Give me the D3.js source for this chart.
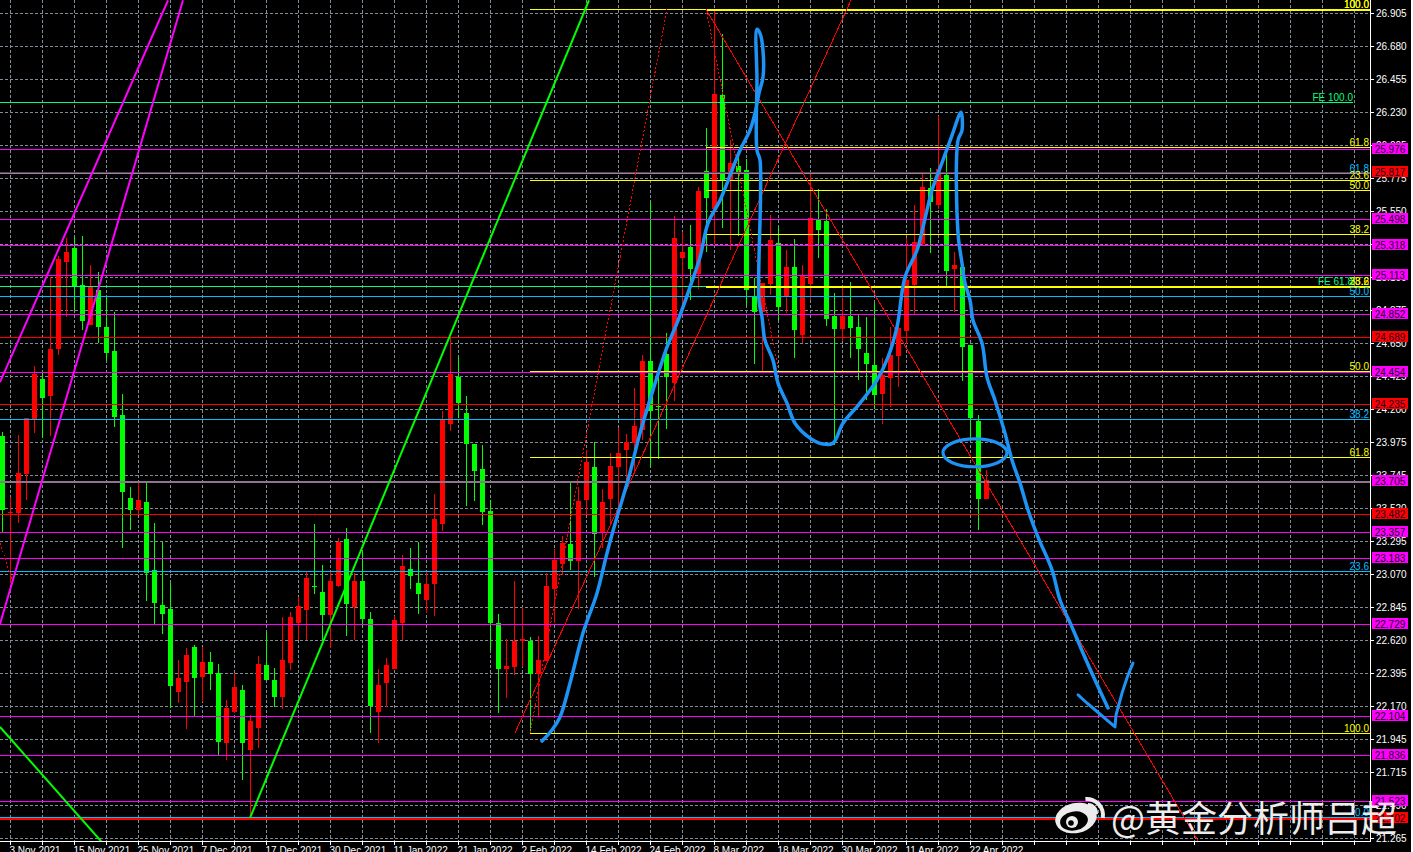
<!DOCTYPE html>
<html><head><meta charset="utf-8">
<script src="https://cdn.jsdelivr.net/npm/d3@7"></script>
<style>html,body{margin:0;padding:0;background:#fff;overflow:hidden}svg{display:block}</style>
</head><body><div id="chart"></div>
<script>
// ---- candle values (prices), one entry per trading day ----
const opens=[24.014,23.488,23.488,23.755,24.131,24.404,24.287,24.609,25.203,25.299,25.046,24.773,25.012,24.759,24.595,24.158,23.590,23.512,23.563,23.099,22.860,22.832,22.265,22.333,22.573,22.367,22.470,22.395,21.916,22.128,22.279,21.869,22.019,22.450,22.347,22.231,22.463,22.736,22.825,22.993,22.948,22.791,22.989,23.311,22.846,23.023,22.764,22.128,22.327,22.422,22.736,23.106,23.010,22.894,23.003,23.413,24.097,24.418,24.172,23.960,23.789,23.502,22.736,22.422,22.436,22.613,22.613,22.388,22.477,22.969,23.140,23.276,23.160,23.577,23.803,23.358,23.584,23.803,23.919,23.966,24.055,24.527,24.219,24.575,24.376,25.231,25.306,25.122,25.825,25.566,26.345,25.757,25.860,25.832,24.964,24.862,25.053,25.333,24.964,25.169,24.705,25.053,25.490,25.484,24.834,24.746,24.834,24.759,24.582,24.500,24.301,24.411,24.561,24.732,25.046,25.326,25.709,25.593,25.798,25.156,25.169,24.636,24.117,23.584];
const highs=[24.041,23.597,24.021,24.138,24.493,24.445,25.101,25.244,25.368,25.375,25.381,25.183,25.135,24.964,24.862,24.302,23.666,23.700,23.700,23.420,23.290,23.010,22.484,22.566,22.586,22.573,22.538,22.457,22.210,22.395,22.313,22.108,22.511,22.668,22.429,22.777,22.811,22.914,23.085,23.413,23.133,23.085,23.317,23.386,23.078,23.222,22.811,22.422,22.497,22.784,23.201,23.249,23.290,23.085,23.618,24.185,24.684,24.554,24.287,23.960,23.953,23.577,22.798,22.627,23.023,22.846,22.641,22.648,23.078,23.242,23.331,23.693,23.666,23.919,23.973,23.652,23.898,24.069,24.028,24.343,24.568,25.614,24.472,24.718,25.518,25.408,25.456,25.717,26.119,26.932,26.762,26.037,25.921,25.907,25.094,25.060,25.525,25.443,25.285,25.361,25.183,25.812,25.703,25.566,24.992,25.033,25.067,24.841,24.827,24.923,24.547,24.759,24.841,25.368,25.593,25.805,25.846,26.201,25.955,25.272,25.169,24.636,24.158,23.782];
const lows=[23.358,23.010,23.420,23.577,24.035,24.000,24.014,24.568,24.827,24.875,24.739,24.773,24.650,24.527,24.076,23.249,23.372,23.481,22.887,22.730,22.662,22.156,22.190,22.012,22.101,22.197,22.279,21.834,21.800,22.121,21.664,21.404,21.882,22.347,22.162,22.149,22.415,22.620,22.620,22.935,22.620,22.566,22.982,22.648,22.620,22.703,21.985,21.916,22.162,22.422,22.620,22.969,22.798,22.805,22.784,23.365,24.048,24.138,23.536,23.570,23.406,22.552,22.121,22.224,22.381,22.436,21.992,22.094,22.477,22.736,23.065,23.099,22.832,23.475,23.051,23.249,23.406,23.529,23.693,23.768,23.987,23.803,23.857,24.062,24.254,24.875,24.944,25.019,25.272,25.326,25.436,25.285,25.381,24.903,24.507,24.445,24.978,24.807,24.855,24.547,24.650,24.944,25.231,24.766,23.953,24.664,24.547,24.397,24.260,24.199,24.097,24.213,24.349,24.643,24.848,25.319,25.265,25.566,25.033,24.862,24.390,23.987,23.372,23.584];
const closes=[23.509,23.498,23.762,24.138,24.438,24.274,24.609,25.224,25.271,25.039,24.800,25.032,24.759,24.582,24.144,23.631,23.509,23.577,23.079,22.873,22.798,22.306,22.361,22.518,22.361,22.470,22.388,21.923,22.156,22.299,21.916,22.067,22.457,22.347,22.231,22.484,22.777,22.853,23.044,22.982,22.791,23.023,23.290,22.866,23.023,22.764,22.169,22.313,22.450,22.757,23.126,23.058,22.935,23.003,23.447,24.131,24.438,24.240,23.960,23.775,23.495,22.736,22.422,22.443,22.613,22.627,22.388,22.484,22.989,23.167,23.283,23.160,23.570,23.837,23.345,23.563,23.809,23.898,23.973,24.083,24.527,24.185,24.212,24.418,25.368,25.272,25.156,25.689,25.641,26.352,25.757,25.880,25.819,25.012,24.862,25.060,25.354,24.896,25.169,24.739,25.115,25.504,25.422,24.814,24.746,24.834,24.753,24.609,24.507,24.295,24.431,24.568,24.752,25.080,25.340,25.716,25.614,25.839,25.142,25.183,24.623,24.138,23.584,23.714];

// ---- axis labels ----
const priceTicks=["26.905","26.680","26.455","26.230","26.005","25.775","25.550","25.325","25.100","24.875","24.650","24.425","24.200","23.975","23.745","23.520","23.295","23.070","22.845","22.620","22.395","22.170","21.945","21.715","21.490","21.265"];
const dateLabels=["3 Nov 2021","15 Nov 2021","25 Nov 2021","7 Dec 2021","17 Dec 2021","30 Dec 2021","11 Jan 2022","21 Jan 2022","2 Feb 2022","14 Feb 2022","24 Feb 2022","8 Mar 2022","18 Mar 2022","30 Mar 2022","11 Apr 2022","22 Apr 2022"];

// ---- tagged support / resistance levels ----
const magentaLevels=[25.976,25.498,25.318,25.113,24.852,24.454,23.705,23.357,23.183,22.729,22.104,21.836,21.523];
const redLevels=[25.817,24.689,24.235,23.482,21.402];

// ---- fibonacci levels ----
const fibYellowA=[26.932,25.990,25.696,25.395,25.040];     // starts at bar 88
const fibYellowB=[26.932,25.764,24.459,23.870,21.985];     // starts at bar 66
const fibBlue=[25.812,24.970,24.131,23.092,21.410];
const fibGreen=[26.297,25.039];
const fibLabels=[
 ["100.0",26.932,"#ffff00",0],["100.0",26.932,"#ffff00",0],["61.8",25.990,"#ffff00",0],
 ["61.8",25.812,"#00bfff",0],["23.6",25.764,"#ffff00",0],["50.0",25.696,"#ffff00",0],
 ["38.2",25.395,"#ffff00",0],["23.6",25.040,"#ffff00",0],["38.2",25.040,"#ffff00",0],
 ["50.0",24.970,"#00bfff",0],["50.0",24.459,"#ffff00",0],["38.2",24.131,"#00bfff",0],
 ["61.8",23.870,"#ffff00",0],["23.6",23.092,"#00bfff",0],["100.0",21.985,"#ffff00",0],
 ["0.0",21.410,"#00bfff",0],["FE 100.0",26.297,"#00ff7f",1],["FE 61.8",25.039,"#00ff7f",1]];

// ---- trend lines: [bar, price] pairs ----
const magentaTrends=[[[-0.31,24.383],[20.69,26.994]],[[-0.31,22.73],[22.56,26.994]]];
const greenTrends=[[[30.94,21.404],[73.31,26.994]],[[-0.31,22.026],[12.81,21.215]]];
const redTrends=[[[64.06,21.985],[106.06,26.994]],[[87.94,26.932],[149.44,21.247]]];
const redDotted=[[[65.94,21.985],[83.06,26.932]],[[87.94,26.932],[96.94,24.486]],[[-0.31,23.283],[1.19,23.030]]];

// ---- hand-drawn blue annotation: [bar, price] ----
const sketchMain=[[67.44,21.930],[68.69,22.005],[69.69,22.094],[70.94,22.326],[72.56,22.668],[74.31,22.941],[75.56,23.214],[76.81,23.461],[78.19,23.714],[79.69,24.035],[81.31,24.329],[83.06,24.623],[84.31,24.787],[85.06,24.896],[85.94,25.033],[87.19,25.238],[88.19,25.470],[89.69,25.627],[91.19,25.832],[92.19,25.969],[93.44,26.106],[94.06,26.222],[94.56,26.359],[95.06,26.468],[95.06,26.652],[94.69,26.768],[94.31,26.796],[94.31,26.447],[94.31,25.969],[94.69,25.901],[94.56,24.944],[94.94,24.827],[95.31,24.670],[96.31,24.534],[96.94,24.377],[98.06,24.240],[99.06,24.103],[100.94,24.001],[102.56,23.960],[103.81,23.966],[105.06,24.103],[107.19,24.240],[109.31,24.397],[110.69,24.554],[111.81,24.759],[112.81,25.101],[114.31,25.285],[115.06,25.443],[116.19,25.696],[117.56,25.901],[118.69,26.071],[119.81,26.229],[119.94,26.106],[119.44,26.037],[119.44,25.402],[119.94,25.197],[120.31,25.060],[120.94,24.944],[121.31,24.807],[122.44,24.650],[123.06,24.418],[124.06,24.260],[125.31,24.035],[126.19,23.850],[127.19,23.693],[128.19,23.509],[129.44,23.324],[131.19,23.099],[132.19,22.894],[133.69,22.709],[135.06,22.532],[136.56,22.347],[138.19,22.156]];
const sketchArrow=[[134.44,22.245],[135.56,22.190],[139.06,22.026],[139.19,22.108],[139.94,22.258],[140.69,22.381],[141.31,22.463]];
const sketchEllipse={bar:121.56,price:23.90,barRadius:4.0,priceRadius:0.095};

// ---- scales ----
const W=1411,H=852,plotR=1370,plotB=841;
const x=d3.scaleLinear().domain([0,1]).range([2.5,10.5]);
const y=d3.scaleLinear().domain([26.905,21.265]).range([13.3,838.3]);
const tickY=d3.scalePoint().domain(priceTicks).range([13,838]);
const py=v=>Math.round(y(v))+0.5;
const ty=v=>Math.round(tickY(v))+0.5;
const FONT='"Liberation Sans",Arial,sans-serif';
const FS=10;

const svg=d3.select("#chart").append("svg").attr("width",1413).attr("height",H);
svg.append("rect").attr("width",W).attr("height",H).attr("fill","#000");
svg.append("defs").append("clipPath").attr("id","plot").append("rect").attr("width",plotR).attr("height",plotB);
const plot=svg.append("g").attr("clip-path","url(#plot)");

// grid
const GRID="#7f8c9a";
const gridBars=d3.range(0,43).map(k=>1+k*4);
plot.selectAll("line.gy").data(priceTicks).join("line").attr("x1",0).attr("x2",plotR)
 .attr("y1",ty).attr("y2",ty).attr("stroke",GRID).attr("stroke-dasharray","3,2").attr("shape-rendering","crispEdges");
plot.selectAll("line.gx").data(gridBars).join("line").attr("y1",0).attr("y2",plotB)
 .attr("x1",x).attr("x2",x).attr("stroke",GRID).attr("stroke-dasharray","3,2").attr("shape-rendering","crispEdges");

// candles
const n=opens.length, idx=d3.range(n);
const col=i=>closes[i]>=opens[i]?"#ff0000":"#00ff00";
const candles=plot.append("g").attr("shape-rendering","crispEdges");
candles.selectAll("line.w").data(idx).join("line").attr("x1",x).attr("x2",x)
 .attr("y1",i=>Math.round(y(highs[i]))).attr("y2",i=>Math.round(y(lows[i]))).attr("stroke",col);
candles.selectAll("rect").data(idx).join("rect")
 .attr("x",i=>x(i)-2.5).attr("width",5)
 .attr("y",i=>Math.round(y(Math.max(opens[i],closes[i]))))
 .attr("height",i=>Math.max(1,Math.round(y(Math.min(opens[i],closes[i])))-Math.round(y(Math.max(opens[i],closes[i])))))
 .attr("fill",col);

// horizontal levels
function hline(vals,color,startBar,width,endX){
 plot.append("g").attr("shape-rendering","crispEdges").selectAll("line").data(vals).join("line")
  .attr("x1",startBar==null?0:x(startBar)).attr("x2",endX||plotR).attr("y1",py).attr("y2",py)
  .attr("stroke",color).attr("stroke-width",typeof width=="function"?width:(width||1));
}
hline(magentaLevels,"#ff00ff");
hline([23.705],"#8f748f",null,2);
hline(redLevels,"#ff0000",null,v=>v==21.402||v==25.817?2:1);
hline(fibBlue,"#00bfff");
hline(fibGreen.slice(0,1),"#00ff7f",null,1,1353);
hline(fibGreen.slice(1),"#00ff7f",null,1);
hline(fibYellowB,"#ffff00",65.94);
hline(fibYellowA,"#ffff00",87.94,v=>(v==26.932||v==25.040)?2:1);
hline([21.402],"#ff0000",null,2);

// trend lines (aliased like the terminal's)
const line=d3.line().x(d=>x(d[0])).y(d=>y(d[1]));
const tr=plot.append("g").attr("shape-rendering","crispEdges").attr("fill","none");
tr.selectAll("path.rd").data(redDotted).join(e=>e.append("path")).attr("d",line).attr("stroke","#ff0000").attr("stroke-dasharray","2,2");
const tr2=plot.append("g").attr("shape-rendering","crispEdges").attr("fill","none");
tr2.selectAll("path").data(redTrends).join("path").attr("d",line).attr("stroke","#ff0000").attr("stroke-width",1);
const tr3=plot.append("g").attr("fill","none");
tr3.selectAll("path").data(magentaTrends).join("path").attr("d",line).attr("stroke","#ff00ff").attr("stroke-width",2);
const tr4=plot.append("g").attr("fill","none");
tr4.selectAll("path").data(greenTrends).join("path").attr("d",line).attr("stroke","#00ff00").attr("stroke-width",2);

// fib labels
svg.append("g").selectAll("text").data(fibLabels).join("text")
 .attr("x",d=>d[3]?1353:1369).attr("y",d=>py(d[1])-2).attr("text-anchor","end")
 .attr("font-family",FONT).attr("font-size",FS).attr("fill",d=>d[2]).text(d=>d[0]);

// axes
const axisG=svg.append("g");
axisG.append("line").attr("x1",plotR+0.5).attr("x2",plotR+0.5).attr("y1",0).attr("y2",plotB+1).attr("stroke","#fff").attr("shape-rendering","crispEdges");
axisG.append("line").attr("x1",0).attr("x2",plotR).attr("y1",plotB+0.5).attr("y2",plotB+0.5).attr("stroke","#fff").attr("shape-rendering","crispEdges");
const tickLines=svg.append("g"), tickTexts=svg.append("g");
tickLines.selectAll("line").data(priceTicks).join("line").attr("x1",plotR).attr("x2",plotR+4).attr("y1",ty).attr("y2",ty).attr("stroke","#fff").attr("shape-rendering","crispEdges");
tickTexts.selectAll("text").data(priceTicks).join("text").attr("x",plotR+6).attr("y",v=>ty(v)+3.5)
 .attr("font-family",FONT).attr("font-size",FS).attr("fill","#fff").text(v=>v);
const tickG=svg.append("g");
tickG.selectAll("line").data(gridBars).join("line").attr("x1",x).attr("x2",x).attr("y1",plotB).attr("y2",plotB+4).attr("stroke","#fff").attr("shape-rendering","crispEdges");
tickG.selectAll("text").data(dateLabels).join("text").attr("x",(d,i)=>x(1+i*8)-1).attr("y",854)
 .attr("font-family",FONT).attr("font-size",FS).attr("fill","#fff").text(d=>d);

// price tags
const tags=magentaLevels.map(v=>[v,"#ff00ff"]).concat(redLevels.map(v=>[v,"#ff0000"]));
const tagG=svg.append("g").selectAll("g").data(tags).join("g");
tagG.append("rect").attr("x",1372).attr("y",d=>Math.round(y(d[0]))-6).attr("width",36).attr("height",11).attr("fill",d=>d[1]).attr("shape-rendering","crispEdges");
tagG.append("text").attr("x",1390).attr("y",d=>Math.round(y(d[0]))+3.5).attr("text-anchor","middle")
 .attr("font-family",FONT).attr("font-size",FS).attr("fill","#200020").text(d=>d[0].toFixed(3));

// blue sketch
const curve=d3.line().x(d=>x(d[0])).y(d=>y(d[1])).curve(d3.curveCatmullRom.alpha(0.5));
const BLUE="#1c93f5";
svg.append("path").attr("d",curve(sketchMain)).attr("fill","none").attr("stroke",BLUE).attr("stroke-width",3.5).attr("stroke-linecap","round").attr("stroke-linejoin","round");
svg.append("path").attr("d",line(sketchArrow)).attr("fill","none").attr("stroke",BLUE).attr("stroke-width",3).attr("stroke-linecap","round").attr("stroke-linejoin","round");
const e=sketchEllipse;
svg.append("ellipse").attr("cx",x(e.bar)).attr("cy",y(e.price))
 .attr("rx",x(e.barRadius)-x(0)).attr("ry",y(e.price-e.priceRadius)-y(e.price))
 .attr("fill","none").attr("stroke",BLUE).attr("stroke-width",3.2);

// watermark
const wm=svg.append("g");
const WHITE="#ececec";
wm.append("ellipse").attr("cx",1076).attr("cy",818).attr("rx",21).attr("ry",15).attr("transform","rotate(-12 1076 818)").attr("fill",WHITE);
wm.append("ellipse").attr("cx",1074).attr("cy",821).attr("rx",14).attr("ry",9.5).attr("transform","rotate(-10 1074 821)").attr("fill","#000");
wm.append("circle").attr("cx",1072).attr("cy",822).attr("r",6).attr("fill",WHITE);
wm.append("circle").attr("cx",1071).attr("cy",823).attr("r",2.8).attr("fill","#000");
wm.append("circle").attr("cx",1074).attr("cy",820.5).attr("r",1).attr("fill",WHITE);
const arc=d3.arc();
wm.append("path").attr("transform","translate(1088,813)").attr("d",arc({innerRadius:7,outerRadius:10,startAngle:0.0,endAngle:1.7})).attr("fill",WHITE);
wm.append("path").attr("transform","translate(1087,815)").attr("d",arc({innerRadius:14,outerRadius:18,startAngle:-0.1,endAngle:1.75})).attr("fill",WHITE);
wm.append("text").attr("x",1111).attr("y",832).attr("font-family",'"Noto Sans CJK SC",sans-serif').attr("font-size",36).attr("fill",WHITE).text("@黄金分析师吕超");
</script></body></html>
